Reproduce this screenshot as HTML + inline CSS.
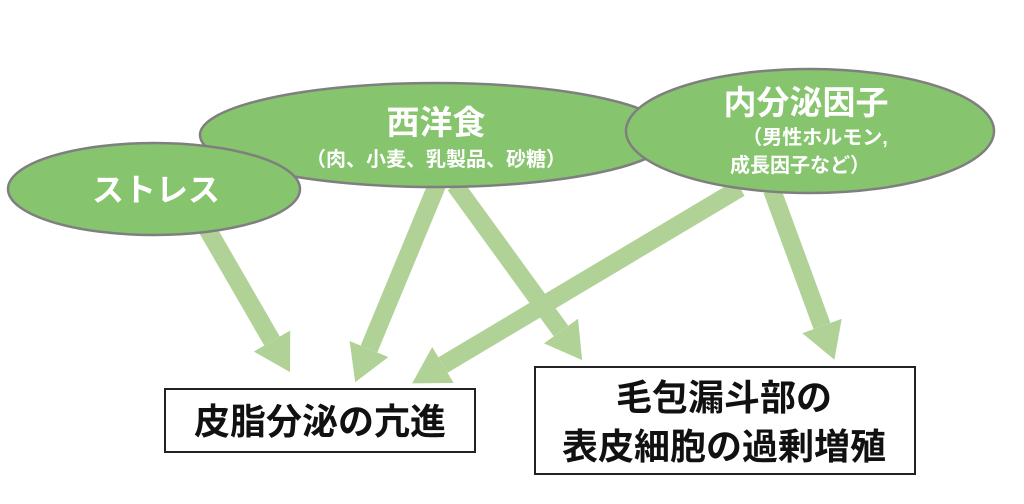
<!DOCTYPE html>
<html><head><meta charset="utf-8"><style>
html,body{margin:0;padding:0;background:#fff;width:1024px;height:504px;overflow:hidden}
svg text{font-family:"Liberation Sans","Noto Sans CJK JP",sans-serif}
</style></head><body>
<svg width="1024" height="504" viewBox="0 0 1024 504" xmlns="http://www.w3.org/2000/svg">
<defs>
<marker id="ah" markerWidth="36" markerHeight="42" refX="0" refY="21" orient="auto" markerUnits="userSpaceOnUse">
<path d="M0,0 L36,21 L0,42 Z" fill="#b1d296"/>
</marker>
</defs>
<g stroke="#b1d296" stroke-width="18" fill="none" marker-end="url(#ah)">
<line x1="205" y1="225" x2="272" y2="341"/>
<line x1="437" y1="185" x2="369" y2="349"/>
<line x1="455" y1="185" x2="561" y2="331"/>
<line x1="740" y1="188" x2="443" y2="365"/>
<line x1="772" y1="190" x2="822" y2="326"/>
</g>
<ellipse cx="436" cy="135" rx="236" ry="52" fill="#86c46e" stroke="#7f7f7f" stroke-width="2.5"/>
<ellipse cx="154" cy="189" rx="146" ry="46" fill="#86c46e" stroke="#7f7f7f" stroke-width="2.5"/>
<ellipse cx="810" cy="131" rx="184" ry="62" fill="#86c46e" stroke="#7f7f7f" stroke-width="2.5"/>
<g fill="#fff" text-anchor="middle" font-weight="bold">
<text x="156" y="201" font-size="32">ストレス</text>
<text x="436" y="134" font-size="33">西洋食</text>
<text x="436" y="166" font-size="20">（肉、小麦、乳製品、砂糖）</text>
<text x="806" y="114" font-size="33">内分泌因子</text>
<text x="815" y="144" font-size="20">（男性ホルモン,</text>
<text x="800" y="172" font-size="20">成長因子など）</text>
</g>
<rect x="165" y="389" width="310" height="63" fill="#fff" stroke="#222" stroke-width="2"/>
<rect x="535" y="367" width="380" height="107" fill="#fff" stroke="#222" stroke-width="2"/>
<g fill="#111" text-anchor="middle" font-size="36" font-weight="bold">
<text x="320" y="434">皮脂分泌の亢進</text>
<text x="724" y="410">毛包漏斗部の</text>
<text x="724" y="459">表皮細胞の過剰増殖</text>
</g>
</svg>
</body></html>
